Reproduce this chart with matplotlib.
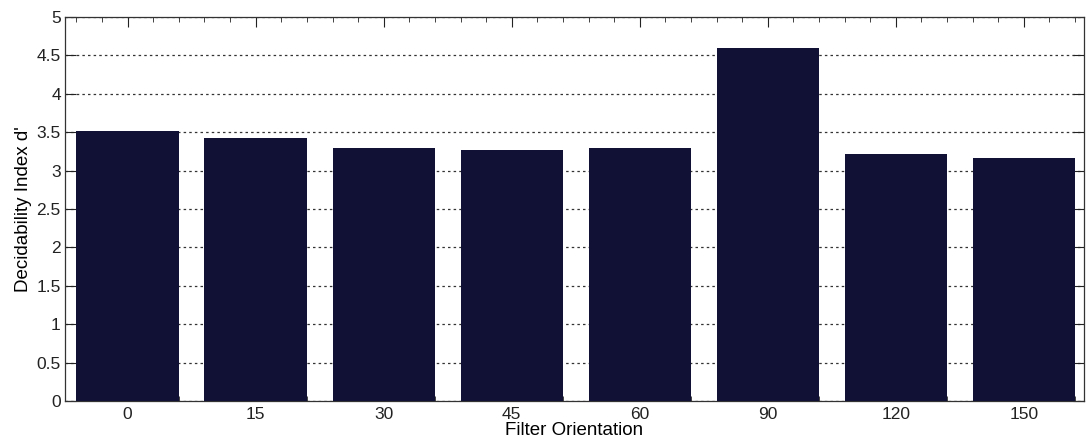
import numpy as np
import matplotlib.pyplot as plt
from matplotlib.ticker import MultipleLocator

plt.rcParams['font.family'] = ['Liberation Sans', 'DejaVu Sans']

orientations = ['0', '15', '30', '45', '60', '90', '120', '150']
dprime = [3.51, 3.42, 3.29, 3.27, 3.29, 4.59, 3.21, 3.16]

fig = plt.figure(figsize=(10.88, 4.46), dpi=100)
ax = fig.add_axes([0.0597, 0.1009, 0.9366, 0.861])

x = np.arange(len(orientations))
ax.bar(x, dprime, width=0.8, color='#111135', zorder=3)

ax.set_xlim(-0.49, 7.47)
ax.set_ylim(0, 5)
ax.set_xticks(x)
ax.set_xticklabels(orientations)
ax.set_yticks(np.arange(0, 5.01, 0.5))
ax.set_yticklabels(['0', '0.5', '1', '1.5', '2', '2.5', '3', '3.5', '4', '4.5', '5'])
ax.xaxis.set_minor_locator(MultipleLocator(0.2))

ax.yaxis.grid(True, linestyle=(0, (2, 2.5)), color='#333333', linewidth=0.9, zorder=1)
ax.tick_params(axis='both', which='both', direction='in', top=True, right=True,
               labelsize=12.5, colors='#222222')
ax.tick_params(axis='x', which='major', length=7, pad=4)
ax.tick_params(axis='x', which='minor', length=3.5)
ax.tick_params(axis='y', which='major', length=8, pad=3)
for s in ax.spines.values():
    s.set_color('#333333')
    s.set_linewidth(0.9)

ax.set_xlabel('Filter Orientation', fontsize=13.5, labelpad=0)
ax.set_ylabel("Decidability Index d'", fontsize=13.5, labelpad=3)

fig.savefig('out.png', dpi=100)
